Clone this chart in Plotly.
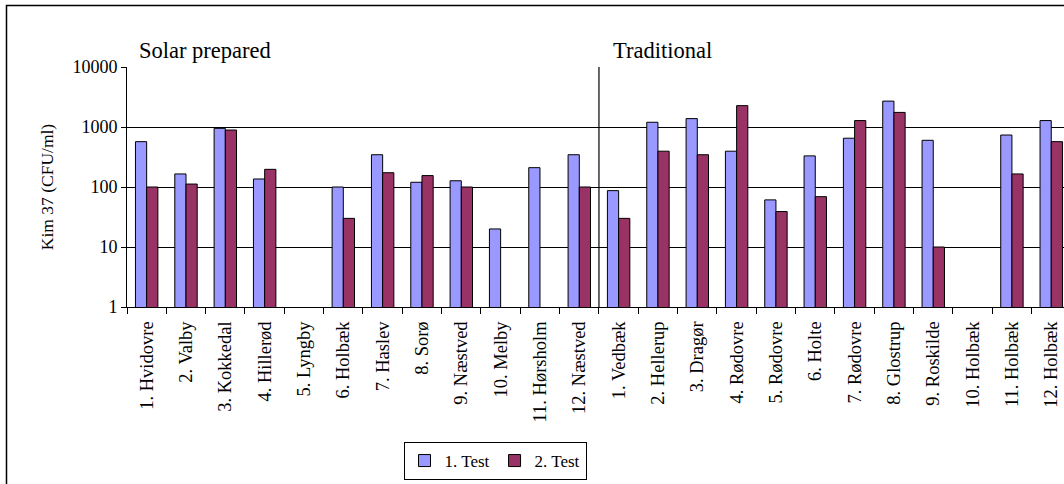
import plotly.graph_objects as go

categories = [
    "1. Hvidovre", "2. Valby", "3. Kokkedal", "4. Hillerød", "5. Lyngby", "6. Holbæk",
    "7. Haslev", "8. Sorø", "9. Næstved", "10. Melby", "11. Hørsholm", "12. Næstved",
    "1. Vedbæk", "2. Hellerup", "3. Dragør", "4. Rødovre", "5. Rødovre", "6. Holte",
    "7. Rødovre", "8. Glostrup", "9. Roskilde", "10. Holbæk", "11. Holbæk", "12. Holbæk",
]
test1 = [570, 165, 950, 136, None, 100, 345, 120, 127, 20, 210, 345,
         87, 1200, 1380, 395, 61, 330, 650, 2700, 600, None, 735, 1280]
test2 = [100, 112, 890, 197, None, 30, 173, 155, 100, None, None, 100,
         30, 395, 345, 2270, 39, 69, 1280, 1750, 10, None, 165, 570]
series_names = ["1. Test", "2. Test"]
group_labels = ["Solar prepared", "Traditional"]
y_tickvals = [1, 10, 100, 1000, 10000]
y_ticktext = ["1", "10", "100", "1000", "10000"]
y_title = "Kim 37 (CFU/ml)"

FONT = "Liberation Serif"
W, H = 1064, 484
L, R, T, B = 127, 0, 67, 177
pw = W - L - R
ph = H - T - B
cat_w = 39.33
x_end = -0.5 + pw / cat_w

def px_x(p):
    return (p - L) / pw

def px_y(p):
    return (H - B - p) / ph

fig = go.Figure()
fig.add_trace(go.Bar(x=categories, y=test1, name=series_names[0],
                     marker=dict(color="#9999FF", line=dict(color="black", width=1))))
fig.add_trace(go.Bar(x=categories, y=test2, name=series_names[1],
                     marker=dict(color="#993366", line=dict(color="black", width=1))))

fig.update_layout(
    width=W, height=H,
    margin=dict(l=L, r=R, t=T, b=B, pad=0),
    paper_bgcolor="white", plot_bgcolor="white",
    font=dict(family=FONT, color="black", size=17),
    barmode="group", bargap=0.43, bargroupgap=0,
    showlegend=True,
    legend=dict(orientation="h", x=px_x(495), y=px_y(461), xanchor="center", yanchor="middle",
                bordercolor="black", borderwidth=1, font=dict(size=17, family=FONT),
                itemwidth=30, bgcolor="white"),
    xaxis=dict(type="category", range=[-0.5, x_end], tickson="boundaries",
               ticks="outside", ticklen=6, tickcolor="black", tickangle=-90,
               ticklabelstandoff=6,
               showline=True, linecolor="black", linewidth=1, showgrid=False,
               tickfont=dict(size=18.5, family=FONT)),
    yaxis=dict(type="log", range=[0, 4], tickvals=y_tickvals, ticktext=y_ticktext,
               ticks="outside", ticklen=5, tickcolor="black",
               showline=True, linecolor="black", linewidth=1,
               showgrid=True, gridcolor="black", gridwidth=1, zeroline=False,
               title=dict(text=y_title, font=dict(size=17.5, family=FONT), standoff=14),
               tickfont=dict(size=18, family=FONT)),
)

# divider between the two groups
fig.add_shape(type="line", xref="x", yref="paper", x0=11.5, x1=11.5, y0=0, y1=1,
              line=dict(color="black", width=1.2))
# outer frame
fig.add_shape(type="rect", xref="paper", yref="paper",
              x0=px_x(6.5), x1=px_x(1075), y0=px_y(495), y1=px_y(5.5),
              line=dict(color="black", width=1.5), layer="above")

fig.add_annotation(text=group_labels[0], xref="paper", yref="paper", x=px_x(137), y=px_y(50),
                   xanchor="left", yanchor="middle", showarrow=False,
                   font=dict(size=22.5, family=FONT))
fig.add_annotation(text=group_labels[1], xref="paper", yref="paper", x=px_x(611), y=px_y(50),
                   xanchor="left", yanchor="middle", showarrow=False,
                   font=dict(size=22.5, family=FONT))

fig.write_html("out.html", config={"displayModeBar": False},
               post_script="document.body.style.margin='0';document.body.style.overflow='hidden';")
